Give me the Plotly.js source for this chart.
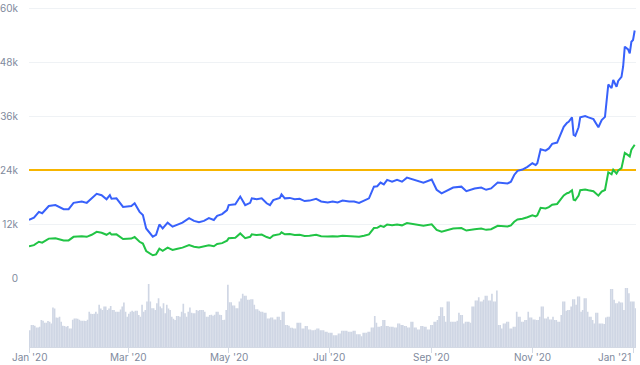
<!DOCTYPE html>
<html>
<head>
<meta charset="utf-8">
<script src="https://cdn.plot.ly/plotly-3.0.1.min.js"></script>
<style>html,body{margin:0;padding:0;background:#fff;}#chart{width:640px;height:365px;}</style>
</head>
<body>
<div id="chart"></div>
<script>
// ---- data ----
const priceDates = ['2020-01-01','2020-01-04','2020-01-07','2020-01-08','2020-01-09','2020-01-13','2020-01-17','2020-01-22','2020-01-25','2020-01-28',
'2020-02-02','2020-02-05','2020-02-08','2020-02-11','2020-02-14','2020-02-17','2020-02-19','2020-02-20','2020-02-23','2020-02-27',
'2020-03-03','2020-03-05','2020-03-08','2020-03-10','2020-03-12','2020-03-16','2020-03-18','2020-03-20','2020-03-22','2020-03-25','2020-03-28','2020-03-31',
'2020-04-03','2020-04-07','2020-04-10','2020-04-13','2020-04-16','2020-04-19','2020-04-22','2020-04-24','2020-04-27','2020-04-30',
'2020-05-01','2020-05-05','2020-05-08','2020-05-11','2020-05-14','2020-05-15','2020-05-18','2020-05-21','2020-05-24','2020-05-26','2020-05-28',
'2020-06-01','2020-06-02','2020-06-04','2020-06-07','2020-06-10','2020-06-13','2020-06-16','2020-06-19','2020-06-23','2020-06-26','2020-06-30',
'2020-07-03','2020-07-06','2020-07-09','2020-07-13','2020-07-16','2020-07-19','2020-07-22','2020-07-25','2020-07-28','2020-07-30',
'2020-08-01','2020-08-03','2020-08-05','2020-08-08','2020-08-11','2020-08-14','2020-08-17','2020-08-21','2020-08-24','2020-08-27',
'2020-09-01','2020-09-04','2020-09-07','2020-09-10','2020-09-14','2020-09-19','2020-09-22','2020-09-27',
'2020-10-01','2020-10-04','2020-10-07','2020-10-11','2020-10-17','2020-10-19','2020-10-21','2020-10-23','2020-10-26','2020-10-29',
'2020-11-01','2020-11-03','2020-11-04','2020-11-06','2020-11-09','2020-11-11','2020-11-13','2020-11-16','2020-11-19','2020-11-20','2020-11-22','2020-11-23','2020-11-25','2020-11-26','2020-11-27','2020-11-29','2020-11-30',
'2020-12-03','2020-12-05','2020-12-08','2020-12-11','2020-12-13','2020-12-15','2020-12-16','2020-12-17','2020-12-19','2020-12-20','2020-12-22','2020-12-23','2020-12-25','2020-12-26','2020-12-27','2020-12-29','2020-12-30','2020-12-31',
'2021-01-01','2021-01-02'];

const blueValues = [12900,13400,14700,14500,14400,16000,16200,15300,15300,16700,
17000,16700,17600,18700,18400,17500,18400,17600,17700,15800,
16000,16600,14700,14000,11000,9200,9600,11900,11000,12300,11400,11900,
12300,13300,12700,12400,12700,13300,12900,13800,14200,15100,
16200,16400,18100,16200,16700,17700,17500,17700,16600,16200,17300,
17800,18600,17700,17800,17500,17600,17100,17200,17600,17000,16800,
17000,16800,17200,17000,17000,16700,17200,17700,20300,20400,
21200,20800,21800,21400,21800,21400,22300,21800,21600,21200,
21900,19600,18800,19300,20100,20300,19300,19900,
20100,19600,19900,21200,21000,21400,22900,23800,24100,24700,
25500,25100,25500,28600,28300,28800,29800,30100,32700,33600,34500,34700,35700,31800,31600,33500,35700,
36000,35700,35300,33500,35100,35800,40300,43000,42200,44000,42500,43800,44700,47000,51400,50800,49900,52500,
52900,55000];

const greenValues = [7050,7300,8050,7950,7850,8750,8850,8350,8350,9150,
9300,9150,9600,10250,10050,9600,10050,9650,9700,8650,
8750,9100,8050,7650,6000,5050,5250,6500,6050,6750,6250,6500,
6750,7300,6950,6800,6950,7250,7050,7550,7750,8300,
8850,8950,9900,8850,9150,9700,9550,9650,9100,8850,9450,
9750,10150,9700,9750,9550,9600,9350,9400,9600,9300,9200,
9300,9200,9400,9300,9300,9150,9400,9700,11100,11150,
11600,11350,11900,11700,11900,11700,12200,11900,11800,11600,
11950,10700,10300,10550,11000,11100,10550,10850,
11000,10700,10850,11600,11450,11700,12500,13000,13150,13500,
13950,13700,13950,15600,15450,15750,16300,16450,17850,18350,18850,18950,19500,17400,17250,18300,19500,
19650,19500,19300,18300,19200,19550,22000,23500,23050,24050,23200,23900,24400,26500,27800,27300,27000,28500,
29000,29600];

// daily volume (billions, approx.), starting 2020-01-01
const volumeStart = '2020-01-01';
const volumeValues = [
16.7,21.7,21.7,21,19.3,19.3,20,26.7,26,24,
24,25.7,25,23.3,39,38,29.3,29,30,25,
21,20.7,20,20.7,18.3,18.3,27,28.3,28.3,28,
27,26,26,26,25.7,27,35,33,32.7,33,
35,33,41.7,38,36.7,40,40,36.7,38,40.7,
36.7,36.7,35,35,35,37,40,44,35,30,
33,35,36,35,36,36,31.7,30,41.7,35,
36.7,45,62.3,45,38.3,38.3,36.7,43.3,48.3,40,
38.3,43.3,33.3,41.7,38,36.7,30,28,26.7,30.7,
30.7,30,35,42.7,33.3,30,35,39,34,33.3,
33.3,36.7,36,36.7,36.7,36.7,35,30,30,31.7,
32,31,32,35,35,32,31.7,26.7,27,36.7,
61.7,44.3,44.3,41,41,38.3,38.3,45,48,52.7,
50.7,50.7,46.7,46.7,47.3,47.3,41.7,37.3,37.3,36,
35,35,34,34,28.3,28.3,29.3,29.3,27.3,27.3,
30,30,26.7,35,35,21.7,21.7,21,19,19,
18.3,18.3,24,24,24,18.3,18.3,20.7,20.7,17.3,
17.3,16.7,16.7,17,18.3,18.3,16.7,16.7,16.7,15,
15,14,14,14,11.7,11.7,11.7,13.3,13.3,16,
16,16,16,15,15,15,16,16,12.7,12.7,
12.7,10.7,14,14,14,15,15,19.3,19.3,30.7,
24,20,20,20.7,26.7,26.7,20.7,20.7,20,20,
20,19.3,19.3,23.3,23.3,21.7,21.7,20.7,20.7,19.3,
19.3,25,25,19.3,19.3,17.3,17.3,20.7,20.7,20,
20,17.3,17.3,21.7,21.7,25,25,26.7,30.7,39.3,
39.3,30.7,25,45,45,25,25,25,25,26,
34,31.7,31.7,23.3,25,25,25,24,40,40,
46,46,49.3,45,45,46.7,50.7,50.7,46,46,
52.7,45,45,56,21.7,21.7,18.3,23.3,23.3,25,
25,18.3,18.3,20,20,35,30,30,25,25,
26.7,26.7,35,29.3,29.3,27.3,27.3,26.7,26.7,30,
40,40,28.3,28.3,30,27.3,27.3,30,26.7,26.7,
25,25,31.7,45,45,36,36.7,36.7,40,47.3,
47.3,41.7,50,50,35,36.7,48.3,48.3,35,30,
30,26.7,23.3,34,34,23.3,23.3,23.3,22.7,29.3,
30,30,57.3,57.3,46.7,43.3,43.3,45,44,44,
36.7,58.3,58.3,53.3,45,45,45,38.3];

const referenceLevel = 24000;

const yTickVals = [0, 12000, 24000, 36000, 48000, 60000];
const yTickText = ['0', '12k', '24k', '36k', '48k', '60k'];
const xTickDates = ['2020-01-01','2020-03-01','2020-05-01','2020-07-01','2020-09-01','2020-11-01','2021-01-01'];
const xTickLabels = ["Jan '20","Mar '20","May '20","Jul '20","Sep '20","Nov '20","Jan '21"];

// ---- build ----
const DAY = 86400000;
const xRange = ['2020-01-01', '2021-01-02 19:00'];
const t0 = Date.parse(volumeStart + 'T00:00:00Z');
const volumeDates = volumeValues.map((_, i) => new Date(t0 + i * DAY).toISOString().slice(0, 10));

const grey = '#808a9d';
const font = {family: 'Inter, "Noto Sans", sans-serif', size: 10, color: grey};

const traces = [
  {type: 'bar', x: volumeDates, y: volumeValues, xaxis: 'x', yaxis: 'y2',
   marker: {color: '#cfd6e4', line: {width: 0}}, width: DAY, offset: 0, hoverinfo: 'skip'},
  {type: 'scatter', mode: 'lines', x: xRange, y: [referenceLevel, referenceLevel], xaxis: 'x', yaxis: 'y',
   line: {color: '#f7b500', width: 2}, hoverinfo: 'skip'},
  {type: 'scatter', mode: 'lines', x: priceDates, y: greenValues, xaxis: 'x', yaxis: 'y',
   line: {color: '#21c445', width: 2}},
  {type: 'scatter', mode: 'lines', x: priceDates, y: blueValues, xaxis: 'x', yaxis: 'y',
   line: {color: '#3861fb', width: 2}}
];

const annotations = xTickDates.map((d, i) => ({
  x: d, xref: 'x', y: 0, yref: 'paper', yanchor: 'middle', yshift: -10,
  xanchor: i === xTickDates.length - 1 ? 'right' : 'center',
  text: xTickLabels[i], showarrow: false, font: font
}));

const layout = {
  width: 640, height: 365,
  margin: {l: 29, r: 4, t: 2, b: 18},
  paper_bgcolor: '#fff', plot_bgcolor: '#fff',
  showlegend: false,
  font: font,
  xaxis: {type: 'date', range: xRange, anchor: 'y2',
          showgrid: false, zeroline: false, showline: true, linecolor: '#d3d9e4', linewidth: 1,
          ticks: 'outside', ticklen: 5, tickcolor: '#d3d9e4', tickwidth: 1,
          tickmode: 'array', tickvals: xTickDates, showticklabels: false},
  yaxis: {domain: [0.2, 1], range: [0, 61333.33], tickmode: 'array', tickvals: yTickVals, ticktext: yTickText,
          showgrid: true, gridcolor: '#eff2f5', gridwidth: 1, zeroline: false, showline: false,
          ticks: '', ticklabelstandoff: 10, tickfont: font},
  yaxis2: {domain: [0, 0.183], range: [0, 62.5], showgrid: false, zeroline: false, showline: false,
           showticklabels: false, ticks: ''},
  annotations: annotations
};

Plotly.newPlot('chart', traces, layout, {staticPlot: true, displayModeBar: false});
</script>
</body>
</html>
